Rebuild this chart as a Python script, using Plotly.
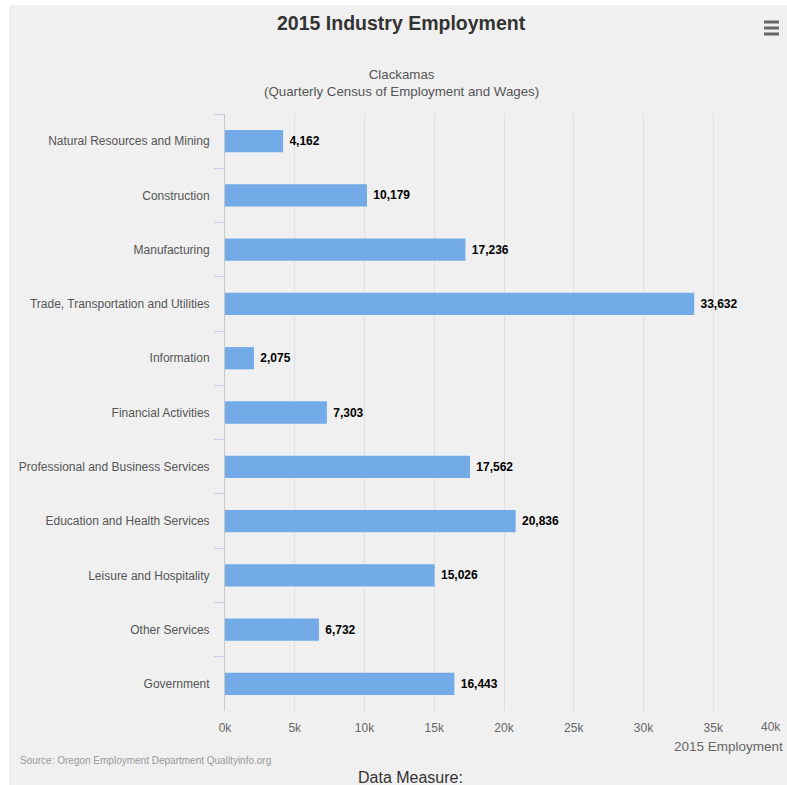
import plotly.graph_objects as go

categories = [
    "Natural Resources and Mining",
    "Construction",
    "Manufacturing",
    "Trade, Transportation and Utilities",
    "Information",
    "Financial Activities",
    "Professional and Business Services",
    "Education and Health Services",
    "Leisure and Hospitality",
    "Other Services",
    "Government",
]
employment = [4162, 10179, 17236, 33632, 2075, 7303, 17562, 20836, 15026, 6732, 16443]
tick_values = [0, 5000, 10000, 15000, 20000, 25000, 30000, 35000]
tick_labels = ["0k", "5k", "10k", "15k", "20k", "25k", "30k", "35k"]

W, H = 787, 785
L, R, T, B = 225, 4, 114, 74
pw, ph = W - L - R, H - T - B

def px(x):
    return (x - L) / pw

def py(y):
    return (H - B - y) / ph

FONT = "Liberation Sans, Arial, sans-serif"

fig = go.Figure(
    go.Bar(
        x=employment,
        y=categories,
        orientation="h",
        width=0.41,
        marker=dict(color="#72abe8", line=dict(width=0)),
        text=[f" {v:,}" for v in employment],
        textposition="outside",
        textfont=dict(family=FONT, size=12, color="#000000", weight="bold"),
        cliponaxis=False,
        hoverinfo="x+y",
    )
)

shapes = [
    dict(type="rect", xref="paper", yref="paper", x0=px(-5), x1=px(9), y0=py(800), y1=py(-5),
         fillcolor="#ffffff", line=dict(width=0), layer="below"),
    dict(type="rect", xref="paper", yref="paper", x0=px(-5), x1=px(800), y0=py(5), y1=py(-5),
         fillcolor="#ffffff", line=dict(width=0), layer="below"),
]
for yy in (22, 28, 34):
    shapes.append(dict(type="rect", xref="paper", yref="paper", x0=px(764), x1=px(779),
                       y0=py(yy + 1.5), y1=py(yy - 1.5), fillcolor="#666666", line=dict(width=0)))

annotations = [
    dict(text="2015 Industry Employment", xref="paper", yref="paper", x=px(401), y=py(23),
         xanchor="center", yanchor="middle", showarrow=False,
         font=dict(family=FONT, size=19.5, color="#333333", weight="bold")),
    dict(text="Clackamas<br>(Quarterly Census of Employment and Wages)", xref="paper", yref="paper",
         x=px(401), y=py(83), xanchor="center", yanchor="middle", showarrow=False,
         font=dict(family=FONT, size=13.3, color="#555555")),
    dict(text="40k", xref="x", yref="paper", x=40000, y=py(727), xanchor="right", yanchor="middle",
         showarrow=False, font=dict(family=FONT, size=12, color="#666666")),
    dict(text="2015 Employment", xref="paper", yref="paper", x=px(785), y=py(746),
         xanchor="right", yanchor="middle", showarrow=False,
         font=dict(family=FONT, size=13.5, color="#666666")),
    dict(text="Source: Oregon Employment Department Qualityinfo.org", xref="paper", yref="paper",
         x=px(18), y=py(760), xanchor="left", yanchor="middle", showarrow=False,
         font=dict(family=FONT, size=10, color="#999999")),
    dict(text="Data Measure:", xref="paper", yref="paper", x=px(410), y=py(777),
         xanchor="center", yanchor="middle", showarrow=False,
         font=dict(family=FONT, size=16, color="#333333")),
]

fig.update_layout(
    width=W, height=H,
    margin=dict(l=L, r=R, t=T, b=B, pad=0),
    paper_bgcolor="#f0f0f0",
    plot_bgcolor="rgba(0,0,0,0)",
    showlegend=False,
    shapes=shapes,
    annotations=annotations,
    xaxis=dict(
        range=[0, 40000], tickvals=tick_values, ticktext=tick_labels,
        showgrid=True, gridcolor="#e0e0e0", gridwidth=1, zeroline=False,
        showline=False, ticks="", ticklabelstandoff=8,
        tickfont=dict(family=FONT, size=12, color="#666666"),
        fixedrange=True,
    ),
    yaxis=dict(
        type="category", categoryorder="array", categoryarray=categories,
        autorange="reversed", showgrid=False, zeroline=False,
        showline=True, linecolor="#c8c8c8", linewidth=1,
        ticks="outside", tickson="boundaries", ticklen=10, tickcolor="#c8d2e0",
        ticklabelstandoff=12,
        tickfont=dict(family=FONT, size=12, color="#555555"),
        fixedrange=True,
    ),
)

fig.write_html("out.html")
